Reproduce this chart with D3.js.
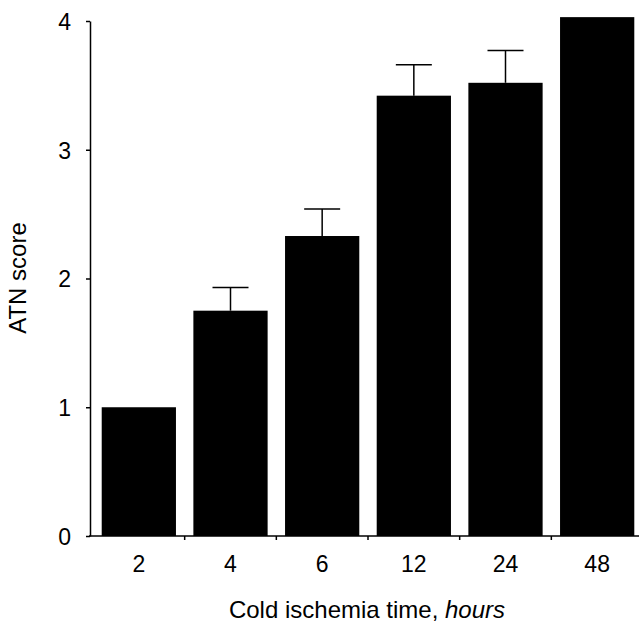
<!DOCTYPE html>
<html>
<head>
<meta charset="utf-8">
<script src="https://cdn.jsdelivr.net/npm/d3@7"></script>
<style>
  body { margin: 0; background: #fff; }
  text { font-family: "Liberation Sans", Arial, Helvetica, sans-serif; fill: #000; }
</style>
</head>
<body>
<div id="chart"></div>
<script>
// chart data
const hours = ["2", "4", "6", "12", "24", "48"];
const atnScore = [1.0, 1.75, 2.33, 3.42, 3.52, 4.03];
const atnError = [0, 0.18, 0.21, 0.24, 0.25, 0];
const yTicks = [0, 1, 2, 3, 4];

let width = 639;
let height = 625;

const svg = d3.select("#chart")
    .append("svg")
    .attr("width", width)
    .attr("height", height);

// scales
const x = d3.scaleBand()
    .domain(hours)
    .range([93, 643])
    .paddingInner(0.19)
    .paddingOuter(0.095);

const y = d3.scaleLinear()
    .domain([0, 4])
    .range([536, 21]);

// bars
svg.selectAll("rect.bar")
    .data(hours)
    .enter()
    .append("rect")
    .attr("class", "bar")
    .attr("x", d => x(d))
    .attr("y", (d, i) => y(atnScore[i]))
    .attr("width", x.bandwidth())
    .attr("height", (d, i) => y(0) - y(atnScore[i]))
    .attr("fill", "#000");

// error bars (only upper half drawn, like the original)
const errData = hours.map((h, i) => ({h: h, v: atnScore[i], e: atnError[i]}))
    .filter(d => d.e > 0);

const capW = 36;
const eb = svg.selectAll("g.err")
    .data(errData)
    .enter()
    .append("g")
    .attr("class", "err")
    .attr("stroke", "#000")
    .attr("stroke-width", 1.5);

eb.append("line")
    .attr("x1", d => x(d.h) + x.bandwidth() / 2)
    .attr("x2", d => x(d.h) + x.bandwidth() / 2)
    .attr("y1", d => y(d.v))
    .attr("y2", d => y(d.v + d.e));

eb.append("line")
    .attr("x1", d => x(d.h) + x.bandwidth() / 2 - capW / 2)
    .attr("x2", d => x(d.h) + x.bandwidth() / 2 + capW / 2)
    .attr("y1", d => y(d.v + d.e))
    .attr("y2", d => y(d.v + d.e));

// y axis
const yAxis = svg.append("g")
    .attr("transform", "translate(90,0)")
    .call(d3.axisLeft(y).tickValues(yTicks).tickFormat(d3.format("d"))
        .tickSize(4).tickSizeOuter(0).tickPadding(15));
yAxis.select(".domain").attr("stroke-width", 1.5);
yAxis.selectAll(".tick line").attr("stroke-width", 1.5);
yAxis.selectAll("text")
    .style("font-size", "23px")
    .attr("dy", "0.36em");

// x axis line + ticks at category boundaries
svg.append("line")
    .attr("x1", 89)
    .attr("x2", 639)
    .attr("y1", y(0))
    .attr("y2", y(0))
    .attr("stroke", "#000")
    .attr("stroke-width", 1.5);

const bounds = hours.slice(1).map(h => x(h) - x.step() * x.paddingInner() / 2);
svg.selectAll("line.xtick")
    .data(bounds)
    .enter()
    .append("line")
    .attr("class", "xtick")
    .attr("x1", d => d)
    .attr("x2", d => d)
    .attr("y1", y(0))
    .attr("y2", y(0) + 4)
    .attr("stroke", "#000")
    .attr("stroke-width", 1.5);

svg.selectAll("text.xlab")
    .data(hours)
    .enter()
    .append("text")
    .attr("class", "xlab")
    .attr("x", d => x(d) + x.bandwidth() / 2)
    .attr("y", 572)
    .attr("text-anchor", "middle")
    .style("font-size", "23px")
    .text(d => d);

// axis titles
const xt = svg.append("text")
    .attr("x", 367)
    .attr("y", 618)
    .attr("text-anchor", "middle")
    .style("font-size", "24px");
xt.append("tspan").text("Cold ischemia time, ");
xt.append("tspan").style("font-style", "italic").text("hours");

svg.append("text")
    .attr("transform", "translate(26,278) rotate(-90)")
    .attr("text-anchor", "middle")
    .style("font-size", "24px")
    .text("ATN score");
</script>
</body>
</html>
